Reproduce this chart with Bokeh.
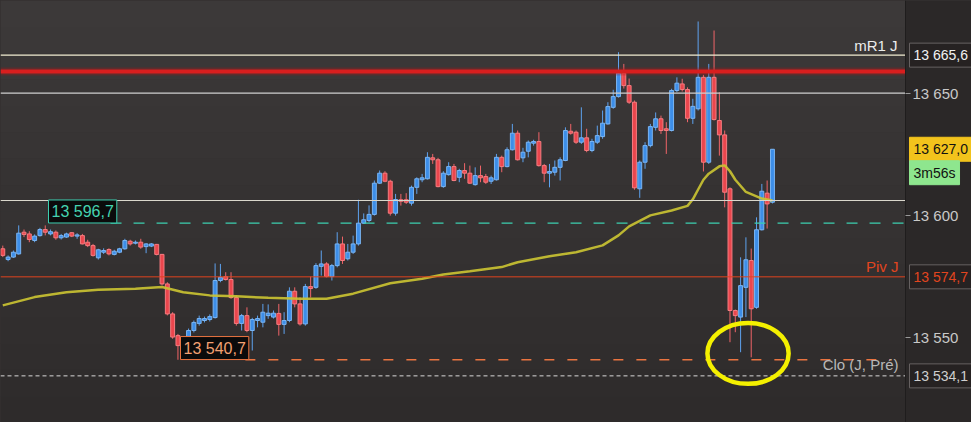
from bokeh.plotting import figure
from bokeh.models import Range1d, Label, FixedTicker, ColumnDataSource, BoxAnnotation, GlobalInlineStyleSheet
from bokeh.embed import file_html
from bokeh.resources import INLINE

# ---- candle data (price) ----
opens = [13586.2, 13581.8, 13582.8, 13584.1, 13593.0, 13592.3, 13589.6, 13591.6, 13594.1, 13592.3,
         13593.0, 13590.7, 13591.0, 13592.8, 13591.4, 13591.6, 13588.9, 13587.5, 13582.5, 13584.8,
         13585.9, 13583.9, 13584.8, 13586.2, 13589.3, 13588.5, 13588.9, 13587.1, 13587.3, 13588.0,
         13583.9, 13571.8, 13559.5, 13550.6, 13545.5, 13549.8, 13552.7, 13555.6, 13556.8, 13557.2,
         13558.0, 13573.2, 13574.8, 13573.6, 13566.2, 13555.6, 13558.8, 13552.7, 13556.8, 13556.1,
         13558.8, 13558.2, 13559.7, 13555.2, 13556.8, 13568.8, 13563.6, 13555.4, 13570.7, 13570.4,
         13579.0, 13580.0, 13574.8, 13579.3, 13588.2, 13582.1, 13584.8, 13588.2, 13596.7, 13597.8,
         13600.3, 13613.1, 13617.2, 13613.9, 13600.8, 13606.3, 13606.3, 13604.9, 13611.4, 13614.5,
         13614.9, 13623.5, 13622.7, 13611.7, 13616.6, 13619.9, 13615.5, 13618.3, 13617.2, 13612.5,
         13616.2, 13615.8, 13613.9, 13614.5, 13623.7, 13619.9, 13626.8, 13633.6, 13623.5, 13626.2,
         13629.5, 13630.2, 13620.3, 13617.2, 13617.6, 13619.6, 13622.4, 13634.4, 13634.0, 13629.9,
         13631.7, 13626.5, 13629.9, 13632.2, 13637.4, 13644.2, 13648.6, 13658.2, 13653.1, 13646.3,
         13610.8, 13621.7, 13628.5, 13636.0, 13639.5, 13635.4, 13634.7, 13651.1, 13653.8, 13651.5,
         13639.7, 13643.6, 13656.5, 13621.7, 13656.5, 13638.8, 13632.9, 13610.8, 13560.9, 13558.2,
         13570.4, 13581.4, 13562.2, 13594.0, 13609.0, 13605.3]
highs = [13587.5, 13583.5, 13585.5, 13595.8, 13594.1, 13593.4, 13592.1, 13594.8, 13595.8, 13594.1,
         13593.7, 13592.3, 13592.8, 13593.0, 13592.6, 13592.3, 13589.9, 13588.2, 13586.2, 13586.4,
         13586.4, 13585.8, 13586.6, 13590.3, 13589.9, 13589.6, 13590.3, 13588.5, 13588.5, 13588.2,
         13584.1, 13572.5, 13560.2, 13551.3, 13549.0, 13553.5, 13556.8, 13558.8, 13558.4, 13559.3,
         13580.2, 13580.0, 13576.6, 13576.6, 13567.0, 13559.5, 13562.2, 13557.9, 13558.8, 13563.6,
         13563.4, 13560.9, 13563.6, 13560.2, 13570.4, 13570.4, 13566.3, 13571.8, 13574.8, 13580.3,
         13585.5, 13580.7, 13580.0, 13593.0, 13591.2, 13588.2, 13591.6, 13606.3, 13600.7, 13604.0,
         13614.2, 13618.3, 13618.0, 13614.5, 13608.7, 13608.7, 13609.0, 13612.1, 13615.5, 13616.9,
         13625.8, 13625.1, 13623.5, 13618.0, 13621.7, 13621.0, 13619.0, 13621.3, 13620.3, 13619.6,
         13620.3, 13616.9, 13616.2, 13625.1, 13624.4, 13627.8, 13637.4, 13634.7, 13627.6, 13630.6,
         13630.9, 13634.0, 13621.0, 13621.0, 13622.4, 13623.7, 13636.0, 13637.4, 13634.7, 13644.2,
         13635.4, 13631.3, 13636.7, 13642.9, 13646.3, 13651.4, 13666.8, 13662.0, 13656.0, 13647.0,
         13622.4, 13629.9, 13637.4, 13642.1, 13640.8, 13638.1, 13651.8, 13656.5, 13655.9, 13652.4,
         13647.7, 13679.4, 13657.5, 13662.0, 13675.7, 13650.4, 13634.7, 13611.4, 13561.3, 13582.7,
         13590.9, 13586.3, 13599.1, 13612.8, 13614.2, 13627.0]
lows = [13582.8, 13581.1, 13582.5, 13583.8, 13591.0, 13588.9, 13588.9, 13591.2, 13591.7, 13591.7,
        13589.9, 13590.0, 13590.7, 13591.0, 13590.3, 13588.0, 13586.9, 13583.0, 13581.8, 13584.1,
        13583.5, 13583.5, 13584.4, 13585.8, 13587.5, 13588.0, 13586.2, 13584.4, 13586.9, 13583.5,
        13571.2, 13558.9, 13549.3, 13540.7, 13543.0, 13548.6, 13551.9, 13554.7, 13556.0, 13556.4,
        13557.6, 13572.5, 13573.2, 13565.7, 13554.7, 13552.7, 13552.0, 13544.5, 13554.0, 13554.0,
        13557.5, 13557.6, 13550.6, 13551.3, 13556.1, 13562.2, 13554.7, 13554.7, 13566.2, 13569.8,
        13575.2, 13574.5, 13573.2, 13578.6, 13580.0, 13581.4, 13584.1, 13587.5, 13596.4, 13597.1,
        13599.8, 13612.8, 13613.5, 13599.8, 13599.8, 13603.9, 13604.6, 13603.9, 13608.7, 13613.5,
        13614.6, 13621.0, 13611.4, 13611.2, 13616.2, 13613.9, 13613.5, 13614.9, 13612.8, 13612.1,
        13613.5, 13612.8, 13612.8, 13614.2, 13617.6, 13619.6, 13626.5, 13622.4, 13621.7, 13623.7,
        13628.5, 13619.9, 13613.5, 13611.4, 13616.2, 13614.2, 13622.1, 13633.0, 13629.2, 13629.2,
        13625.8, 13625.8, 13629.2, 13631.3, 13637.1, 13643.6, 13648.2, 13651.9, 13645.6, 13610.4,
        13607.1, 13619.0, 13627.8, 13634.7, 13633.3, 13625.1, 13634.3, 13650.4, 13650.7, 13638.1,
        13637.4, 13642.9, 13617.9, 13621.0, 13638.8, 13624.4, 13603.2, 13547.9, 13552.0, 13543.8,
        13558.2, 13541.7, 13561.6, 13593.7, 13594.5, 13604.8]
closes = [13583.5, 13582.8, 13584.8, 13592.6, 13592.1, 13590.0, 13591.4, 13594.1, 13593.0, 13593.2,
          13590.7, 13591.6, 13592.3, 13591.4, 13591.9, 13588.2, 13587.5, 13583.5, 13585.8, 13585.5,
          13584.1, 13585.2, 13586.2, 13589.6, 13588.2, 13588.9, 13586.9, 13588.2, 13588.2, 13583.9,
          13571.8, 13559.5, 13550.0, 13546.5, 13548.0, 13552.7, 13556.0, 13557.6, 13557.6, 13558.4,
          13573.2, 13574.5, 13573.6, 13566.2, 13555.6, 13558.8, 13552.7, 13557.2, 13557.6, 13560.2,
          13559.8, 13559.8, 13555.2, 13556.8, 13568.8, 13563.6, 13555.4, 13570.7, 13569.9, 13579.3,
          13580.0, 13574.8, 13579.3, 13588.2, 13581.4, 13584.8, 13588.2, 13596.7, 13598.1, 13600.3,
          13613.1, 13617.2, 13613.9, 13600.8, 13606.4, 13605.7, 13605.3, 13611.4, 13614.9, 13615.3,
          13623.7, 13622.7, 13611.7, 13617.2, 13619.9, 13614.2, 13618.3, 13617.2, 13613.1, 13616.2,
          13615.3, 13613.5, 13615.3, 13623.7, 13619.9, 13626.8, 13633.6, 13622.7, 13625.8, 13629.9,
          13630.2, 13620.3, 13617.2, 13617.9, 13619.6, 13622.7, 13634.7, 13633.6, 13629.9, 13631.7,
          13626.5, 13630.2, 13632.6, 13637.7, 13644.5, 13648.6, 13658.2, 13653.1, 13646.3, 13611.2,
          13621.7, 13628.5, 13636.3, 13639.5, 13634.7, 13634.7, 13651.1, 13654.1, 13651.5, 13639.7,
          13644.6, 13656.5, 13621.7, 13656.5, 13639.2, 13632.9, 13609.4, 13560.9, 13558.8, 13571.1,
          13581.7, 13561.6, 13594.0, 13609.8, 13604.6, 13627.0]

# moving average, read at some candle indices
ma_index = [0, 6, 12, 18, 25, 30, 34, 39, 44, 50, 56, 61, 66, 73, 79, 83, 88, 94, 97, 103,
            108, 113, 116, 118, 122, 126, 129, 130, 131, 132, 133, 135, 136, 137, 138, 140, 143, 145]
ma_values = [13563.0, 13566.4, 13568.4, 13569.4, 13569.8, 13570.5, 13568.4, 13567.1, 13566.7, 13566.1,
             13565.7, 13565.7, 13567.8, 13572.1, 13573.9, 13575.7, 13577.0, 13578.7, 13580.7, 13583.1,
             13584.8, 13587.6, 13591.7, 13595.4, 13599.9, 13601.9, 13603.8, 13606.5, 13610.5, 13614.5,
             13617.0, 13620.0, 13620.4, 13618.0, 13614.5, 13609.5, 13606.8, 13606.0]

# levels
mr1_level = 13665.6
resistance_level = 13658.9
level_13650 = 13650.0
white_level = 13606.0
prev_high = 13596.7
pivot_level = 13574.7
day_low = 13540.7
prev_close = 13534.1
last_price = 13627.0
countdown = "3m56s"

y_ticks = [13550, 13600, 13650]
y_tick_labels = ["13 550", "13 600", "13 650"]

# highlight ellipse (candle index, price) and size
hl_x, hl_y, hl_w, hl_h = 140.4, 13543.3, 15.3, 25.0

FONT = "Liberation Sans"

# extents
x_start, panel_edge, x_end = -0.43, 170.06, 182.5
y_start, y_end = 13514.98, 13688.0
prev_high_start = 20.3
day_low_start, day_low_end = 45.7, 167.5

idx = list(range(len(opens)))
up = [c >= o for o, c in zip(opens, closes)]
src = ColumnDataSource(dict(
    x=idx, o=opens, h=highs, l=lows, c=closes,
    top=[max(o, c) for o, c in zip(opens, closes)],
    bot=[min(o, c) for o, c in zip(opens, closes)],
    fill=["#3d8ee8" if u else "#ea464d" for u in up],
    edge=["#7ab5f3" if u else "#f57c80" for u in up],
    wick=["#5ea2ee" if u else "#f06468" for u in up],
))

p = figure(width=971, height=422, output_backend="svg", toolbar_location=None,
           x_range=Range1d(x_start, x_end), y_range=Range1d(y_start, y_end),
           x_axis_location=None, y_axis_location="right",
           min_border_left=0, min_border_top=0, min_border_bottom=0, min_border_right=0)
p.stylesheets = [GlobalInlineStyleSheet(css="body { background-color: #343131; }")]
p.background_fill_color = "#353232"
p.border_fill_color = "#2b2828"
p.outline_line_color = None
p.grid.visible = False

# subtle vertical background shading of the plot area (top lighter)
top_rgb, bot_rgb = (0x3c, 0x39, 0x39), (0x2e, 0x2b, 0x2b)
n_bands = 16
for k in range(n_bands):
    t = (k + 0.5) / n_bands
    col = "#%02x%02x%02x" % tuple(round(a + (b - a) * t) for a, b in zip(top_rgb, bot_rgb))
    hi = y_end - (y_end - y_start) * k / n_bands
    lo = y_end - (y_end - y_start) * (k + 1) / n_bands
    p.add_layout(BoxAnnotation(top=hi, bottom=lo, right=panel_edge, fill_color=col,
                               fill_alpha=1.0, line_color=None, level="underlay"))

# price-scale panel background
p.add_layout(BoxAnnotation(left=panel_edge, fill_color="#2b2828", fill_alpha=1.0,
                           line_color=None, level="underlay"))

ax = p.yaxis[0]
ax.fixed_location = panel_edge
ax.ticker = FixedTicker(ticks=y_ticks)
ax.major_label_overrides = {t: l for t, l in zip(y_ticks, y_tick_labels)}
ax.major_label_text_color = "#c9c9c9"
ax.major_label_text_font = FONT
ax.major_label_text_font_size = "15px"
ax.major_tick_line_color = "#9a9a9a"
ax.major_tick_out = 5
ax.major_tick_in = 0
ax.minor_tick_line_color = None
ax.major_label_standoff = 2
ax.axis_line_color = "#1f1d1d"

# candles
p.segment(x0="x", y0="h", x1="x", y1="l", source=src, line_color="wick", line_width=1)
p.vbar(x="x", width=0.74, top="top", bottom="bot", source=src,
       fill_color="fill", line_color="edge", line_width=1)

# moving average
p.line(ma_index, ma_values, line_color="#c9c232", line_width=2.5, line_alpha=0.92)

# levels
def hline(y, color, width, x0=x_start, x1=panel_edge, dash="solid", alpha=1.0):
    p.segment(x0=[x0], y0=[y], x1=[x1], y1=[y], line_color=color, line_width=width,
              line_dash=dash, line_alpha=alpha)

hline(mr1_level, "#f1edd2", 1.2)
hline(resistance_level, "#b01616", 8, alpha=0.3)
hline(resistance_level, "#d81e1e", 4)
hline(level_13650, "#cfcfcf", 1.2)
hline(white_level, "#dad7cc", 1.2)
hline(pivot_level, "#e0431f", 1)
hline(prev_close, "#d8d8d8", 1, dash="4 3")
hline(prev_high, "#3ccfb0", 1.3, x0=prev_high_start, dash="11 12")
hline(day_low, "#ea7440", 1.4, x0=day_low_start, x1=day_low_end, dash="10 13")

# highlight
p.ellipse(x=[hl_x], y=[hl_y], width=hl_w, height=hl_h, fill_color=None,
          line_color="#f4f000", line_width=4.5)

def lab(x, y, text, color, size="15px", align="left", bg=None, border=None, pad=3):
    kw = dict(x=x, y=y, x_units="screen", y_units="data", text=text, text_color=color,
              text_font=FONT, text_font_size=size, text_align=align, text_baseline="middle")
    if bg is not None:
        kw.update(background_fill_color=bg, border_line_color=border, padding=pad)
    p.add_layout(Label(**kw))

# in-plot texts
lab(897, mr1_level + 3.9, "mR1 J", "#ececec", align="right")
lab(898, pivot_level + 4.2, "Piv J", "#e2451f", align="right")
lab(898, prev_close + 4.5, "Clo (J, Pré)", "#b8b8b8", align="right")
lab(48, prev_high + 4.8, "13 596,7", "#45d3b0", size="16px", bg="#0b0b0b", border="#3ccfb0")
lab(180, day_low + 4.8, "13 540,7", "#f2a072", size="16px", bg="#0b0b0b", border="#ea7440", pad=3)

# price-scale value boxes
lab(909, mr1_level, "13 665,6", "#f2f2f2", size="14px", bg="#262222", border="#666161", pad=4)
lab(909, last_price, "13 627,0", "#111111", size="14px", bg="#f2c31c", border="#f2c31c", pad=4)
lab(909, last_price - 9.6, countdown, "#111111", size="14px", bg="#8ee68e", border="#8ee68e", pad=4)
lab(909, pivot_level, "13 574,7", "#e2451f", size="14px", bg="#262222", border="#666161", pad=4)
lab(909, prev_close, "13 534,1", "#cfcfcf", size="14px", bg="#262222", border="#666161", pad=4)

open("out.html", "w").write(file_html(p, INLINE))
